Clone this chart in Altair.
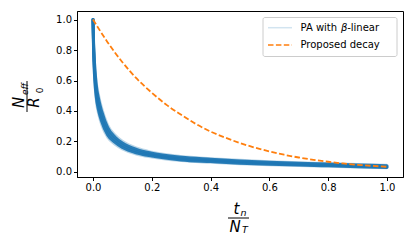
import altair as alt
import pandas as pd

# ---- data ----
xs_blue = [0, 0.002, 0.005, 0.01, 0.02, 0.03, 0.05, 0.075, 0.1, 0.15, 0.2, 0.3, 0.4, 0.5, 0.6, 0.7, 0.8, 0.9, 1.0]
blue_center = [1.0, 0.82, 0.68, 0.55, 0.43, 0.36, 0.265, 0.21, 0.175, 0.135, 0.113, 0.087, 0.075, 0.065, 0.057, 0.051, 0.046, 0.040, 0.035]
blue_upper = [1.0, 0.85, 0.72, 0.59, 0.47, 0.395, 0.29, 0.228, 0.19, 0.147, 0.123, 0.096, 0.083, 0.072, 0.064, 0.057, 0.052, 0.046, 0.041]
blue_lower = [1.0, 0.79, 0.64, 0.51, 0.395, 0.33, 0.243, 0.194, 0.161, 0.124, 0.104, 0.079, 0.068, 0.058, 0.051, 0.045, 0.040, 0.035, 0.030]
blue_upper2 = [1.0, 0.87, 0.75, 0.62, 0.50, 0.42, 0.31, 0.243, 0.203, 0.157, 0.131, 0.103, 0.089, 0.078, 0.069, 0.062, 0.056, 0.050, 0.045]
blue_lower2 = [1.0, 0.77, 0.61, 0.48, 0.37, 0.305, 0.225, 0.18, 0.150, 0.115, 0.097, 0.073, 0.062, 0.053, 0.046, 0.040, 0.036, 0.031, 0.026]

xs_orange = [0, 0.05, 0.1, 0.15, 0.2, 0.25, 0.3, 0.35, 0.4, 0.45, 0.5, 0.55, 0.6, 0.65, 0.7, 0.75, 0.8, 0.85, 0.9, 0.95, 1.0]
orange = [1.0, 0.85, 0.72, 0.61, 0.52, 0.44, 0.375, 0.315, 0.265, 0.225, 0.19, 0.16, 0.135, 0.113, 0.095, 0.08, 0.067, 0.056, 0.047, 0.04, 0.034]

ticks = [0.0, 0.2, 0.4, 0.6, 0.8, 1.0]
legend_labels = ["PA with ", "β", "-linear", "Proposed decay"]

BLUE = "#1f77b4"
ORANGE = "#ff7f0e"
FONT = "DejaVu Sans"

rows_in = []
for name, ys in [("lo", blue_lower), ("c", blue_center), ("hi", blue_upper)]:
    rows_in += [{"x": x, "y": y, "s": name} for x, y in zip(xs_blue, ys)]
rows_out = []
for name, ys in [("lo2", blue_lower2), ("hi2", blue_upper2)]:
    rows_out += [{"x": x, "y": y, "s": name} for x, y in zip(xs_blue, ys)]
df_in = pd.DataFrame(rows_in)
df_out = pd.DataFrame(rows_out)
df_or = pd.DataFrame({"x": xs_orange, "y": orange})

xscale = alt.Scale(domain=[-0.0544, 1.0544], nice=False, zero=False)
yscale = alt.Scale(domain=[-0.033, 1.056], nice=False, zero=False)
xax = alt.Axis(values=ticks, format=".1f", title=None, grid=False, labelOverlap=False)
yax = alt.Axis(values=ticks, format=".1f", title=None, grid=False, labelOverlap=False)

def enc(ch, detail=True):
    e = dict(x=alt.X("x:Q", scale=xscale, axis=xax), y=alt.Y("y:Q", scale=yscale, axis=yax))
    if detail:
        e["detail"] = "s:N"
    return ch.encode(**e)

outer = enc(alt.Chart(df_out).mark_line(color=BLUE, strokeWidth=2.5, opacity=0.3, interpolate="monotone"))
inner = enc(alt.Chart(df_in).mark_line(color=BLUE, strokeWidth=3, opacity=0.95, interpolate="monotone", strokeCap="round"))
orange_line = enc(alt.Chart(df_or).mark_line(color=ORANGE, strokeWidth=1.8, strokeDash=[5.5, 2.4], interpolate="monotone"), detail=False)

one = pd.DataFrame({"k": [0]})

def txt(t, x, y, size, italic=True, angle=0, align="center"):
    kw = dict(text=t, font=FONT, fontSize=size, align=align, baseline="middle", color="black")
    if italic:
        kw["fontStyle"] = "italic"
    if angle:
        kw["angle"] = angle
    return alt.Chart(one).mark_text(**kw).encode(x=alt.value(x), y=alt.value(y))

def rule(x, x2, y, y2, color="black", width=1.0, dash=None):
    kw = dict(color=color, strokeWidth=width)
    if dash:
        kw["strokeDash"] = dash
    return alt.Chart(one).mark_rule(**kw).encode(x=alt.value(x), x2=alt.value(x2), y=alt.value(y), y2=alt.value(y2))

# y title: N_eff / R_0 (rotated)
ytitle = [
    txt("N", -58, 91.5, 15, angle=270),
    txt("eff", -52.5, 78, 9, angle=270),
    rule(-50, -50, 70, 101),
    txt("R", -43, 91.5, 15, angle=270),
    txt("0", -37.5, 79.5, 9, italic=False, angle=270),
]
# x title: t_n / N_T
xtitle = [
    txt("t", 159.5, 198, 15),
    txt("n", 166.5, 201.5, 9.5),
    rule(151, 172, 207, 207),
    txt("N", 158, 216, 15),
    txt("T", 168, 219, 9.5),
]

# legend
box = alt.Chart(one).mark_rect(fill="white", fillOpacity=0.8, stroke="#cccccc", strokeWidth=1, cornerRadius=2).encode(
    x=alt.value(186), x2=alt.value(320), y=alt.value(6.5), y2=alt.value(45.5))
leg = [
    box,
    rule(191, 215, 16.7, 16.7, color="#d2e4f0", width=1.5),
    txt(legend_labels[0], 223.5, 16.7, 10, italic=False, align="left"),
    txt(legend_labels[1], 264.0, 16.7, 10, italic=True, align="left"),
    txt(legend_labels[2], 270.2, 16.7, 10, italic=False, align="left"),
    rule(191, 215, 34, 34, color=ORANGE, width=1.5, dash=[5.5, 2.4]),
    txt(legend_labels[3], 223.5, 34, 10, italic=False, align="left"),
]

chart = alt.layer(outer, inner, orange_line, *leg, *ytitle, *xtitle).properties(
    width=326, height=166,
    autosize=alt.AutoSizeParams(type="none"),
    padding={"left": 69, "top": 3, "right": 4, "bottom": 62},
).configure_view(stroke="black", strokeWidth=1).configure_axis(
    labelFont=FONT, labelFontSize=10, labelColor="black", domainColor="black",
    tickColor="black", tickSize=3.5, labelPadding=2, domainWidth=1, tickWidth=1,
)

chart.save("out.html", embed_options={"renderer": "svg", "actions": False})
